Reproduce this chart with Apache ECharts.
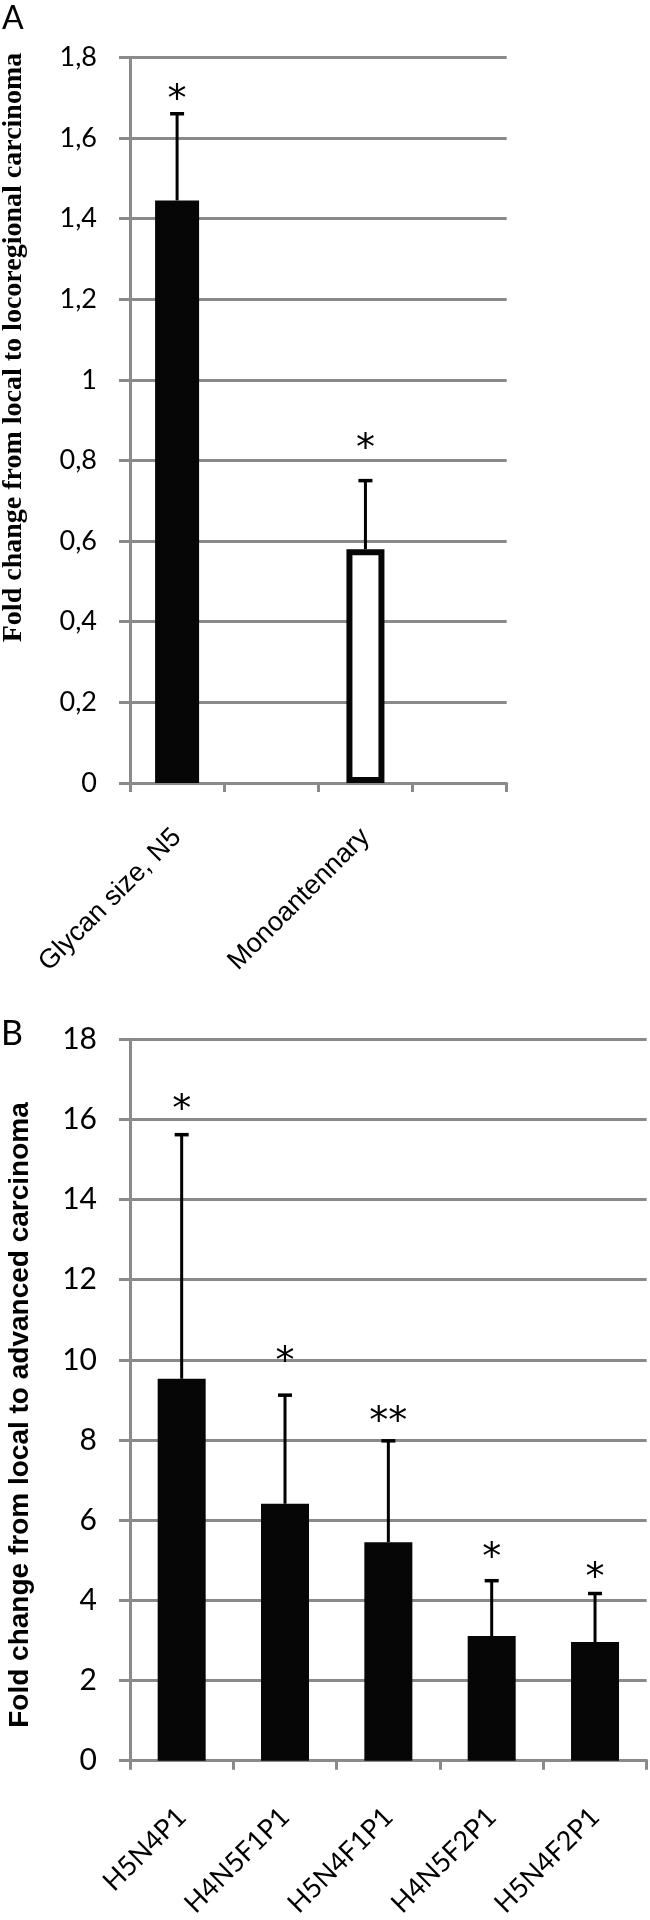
<!DOCTYPE html>
<html><head><meta charset="utf-8">
<script src="https://cdn.jsdelivr.net/npm/echarts@6/dist/echarts.min.js"></script>
<style>html,body{margin:0;padding:0;background:#fff}#c{width:650px;height:1920px}</style>
</head><body><div id="c"></div>
<script>
// ---------- Panel A ----------
const categoriesA = ['Glycan size, N5', '', 'Monoantennary', ''];
const n5ValuesA = [1.445, null, null, null];
const monoValuesA = [null, null, 0.58, null];
const errTopA = [1.66, null, 0.75, null];
const starsA = ['*', '', '*', ''];
const starLevelA = [1.705, null, 0.84, null];
const yTicksA = ['0', '0,2', '0,4', '0,6', '0,8', '1', '1,2', '1,4', '1,6', '1,8'];

// ---------- Panel B ----------
const categoriesB = ['H5N4P1', 'H4N5F1P1', 'H5N4F1P1', 'H4N5F2P1', 'H5N4F2P1'];
const valuesB = [9.53, 6.41, 5.45, 3.11, 2.96];
const errTopB = [15.62, 9.12, 7.98, 4.49, 4.17];
const starsB = ['*', '*', '**', '*', '*'];
const starLevelB = [16.35, 10.07, 8.58, 5.17, 4.69];
const yTicksB = ['0', '2', '4', '6', '8', '10', '12', '14', '16', '18'];

const GRAY = '#8a8a8a';
const chart = echarts.init(document.getElementById('c'), null, {renderer: 'canvas'});

function meanOf(i, a, b) { return a[i] != null ? a[i] : b[i]; }

function errData(cats, meanFn, tops) {
  const out = [];
  cats.forEach((c, i) => { if (tops[i] != null) out.push([i, meanFn(i), tops[i]]); });
  return out;
}
function starData(levels) {
  const out = [];
  levels.forEach((v, i) => { if (v != null) out.push([i, v]); });
  return out;
}
function errRender(params, api) {
  const x = api.value(0), v = api.value(1), top = api.value(2);
  const p0 = api.coord([x, v]);
  const p1 = api.coord([x, top]);
  const half = 7;
  return {type: 'group', children: [
    {type: 'line', shape: {x1: p0[0], y1: p0[1], x2: p1[0], y2: p1[1]}, style: {stroke: '#000', lineWidth: 3}},
    {type: 'line', shape: {x1: p1[0] - half, y1: p1[1], x2: p1[0] + half, y2: p1[1]}, style: {stroke: '#000', lineWidth: 3.5}}
  ]};
}
function starRender(labels) {
  return function (params, api) {
    const i = api.value(0);
    const p = api.coord([i, api.value(1)]);
    return {type: 'text', x: p[0], y: p[1] + 6, style: {
      text: labels[i], fill: '#000', font: '38px "DejaVu Sans"', align: 'center', verticalAlign: 'middle'}};
  };
}

function yAxis(gridIndex, max, interval, ticks, fontFamily, fontSize) {
  return {
    type: 'value', gridIndex, min: 0, max, interval,
    axisLine: {show: true, lineStyle: {color: GRAY, width: 3}},
    axisTick: {show: true, length: 11, lineStyle: {color: GRAY, width: 3}},
    splitLine: {show: true, lineStyle: {color: GRAY, width: 3}},
    axisLabel: {
      margin: 33, color: '#000', fontFamily, fontSize,
      formatter: (v) => ticks[Math.round(v / interval)]
    }
  };
}
function xAxis(gridIndex, cats, fontFamily, fontSize, margin, show) {
  return {
    type: 'category', gridIndex, data: cats, show: show !== false,
    axisLine: {show: true, lineStyle: {color: GRAY, width: 3}},
    axisTick: {show: true, length: 9, lineStyle: {color: GRAY, width: 3}},
    splitLine: {show: false},
    axisLabel: {interval: 0, rotate: 45, margin, color: '#000', fontFamily, fontSize}
  };
}

const option = {
  animation: false,
  backgroundColor: '#fff',
  grid: [
    {left: 130, top: 57.3, width: 376.7, height: 725.7},
    {left: 130, top: 1039.3, width: 516.7, height: 747}
  ],
  xAxis: [
    xAxis(0, categoriesA, '"Liberation Sans"', 27, 50),
    xAxis(0, categoriesA, '"Liberation Sans"', 27, 50, false),
    xAxis(1, categoriesB, 'Lato', 27, 52)
  ],
  yAxis: [
    yAxis(0, 1.8, 0.2, yTicksA, 'Lato', 27),
    yAxis(1, 18, 2, yTicksB, 'Lato', 30)
  ],
  graphic: [
    {type: 'text', left: 2, top: 3, style: {text: 'A', font: '32px Lato', fill: '#000'}},
    {type: 'text', left: 1, top: 1017, style: {text: 'B', font: '34px Lato', fill: '#000'}},
    {type: 'text', x: 14, y: 347.5, rotation: Math.PI / 2, style: {
      text: 'Fold change from local to locoregional carcinoma', font: 'bold 28px "Liberation Serif"',
      fill: '#000', align: 'center', verticalAlign: 'middle'}},
    {type: 'text', x: 20, y: 1415, rotation: Math.PI / 2, style: {
      text: 'Fold change from local to advanced carcinoma', font: 'bold 28px "Liberation Sans"',
      fill: '#000', align: 'center', verticalAlign: 'middle'}}
  ],
  series: [
    {type: 'bar', xAxisIndex: 0, yAxisIndex: 0, barWidth: 44, data: n5ValuesA,
      itemStyle: {color: '#060606'}, z: 2},
    {type: 'bar', xAxisIndex: 1, yAxisIndex: 0, barWidth: 38, data: monoValuesA,
      itemStyle: {color: '#fff', borderColor: '#060606', borderWidth: 6}, z: 2},
    {type: 'custom', xAxisIndex: 0, yAxisIndex: 0, renderItem: errRender,
      data: errData(categoriesA, (i) => meanOf(i, n5ValuesA, monoValuesA), errTopA), z: 3},
    {type: 'custom', xAxisIndex: 0, yAxisIndex: 0, renderItem: starRender(starsA),
      data: starData(starLevelA), z: 4},
    {type: 'bar', xAxisIndex: 2, yAxisIndex: 1, barWidth: 48, data: valuesB,
      itemStyle: {color: '#060606'}, z: 2},
    {type: 'custom', xAxisIndex: 2, yAxisIndex: 1, renderItem: errRender,
      data: errData(categoriesB, (i) => valuesB[i], errTopB), z: 3},
    {type: 'custom', xAxisIndex: 2, yAxisIndex: 1, renderItem: starRender(starsB),
      data: starData(starLevelB), z: 4}
  ]
};
chart.setOption(option);
</script></body></html>
